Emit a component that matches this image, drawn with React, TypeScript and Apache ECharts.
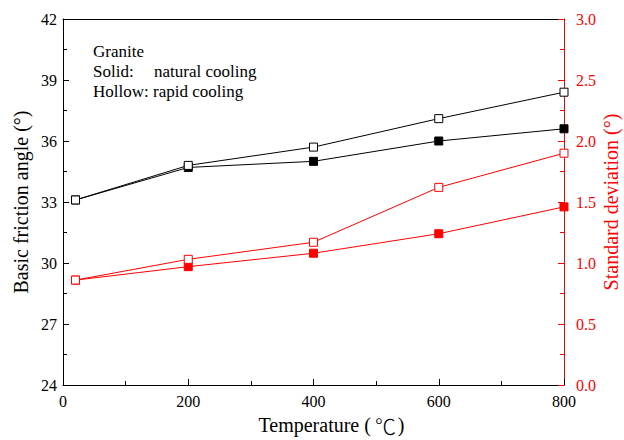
import React, { useEffect, useRef } from "react";
import * as echarts from "echarts";

const temperatures = [20, 200, 400, 600, 800];
const angleNatural = [33.1, 34.7, 35.0, 36.0, 36.6];
const angleRapid = [33.1, 34.8, 35.7, 37.1, 38.4];
const sdNatural = [0.86, 0.97, 1.08, 1.24, 1.46];
const sdRapid = [0.86, 1.03, 1.17, 1.62, 1.9];

const FONT = "'Liberation Serif', 'Times New Roman', serif";
const RED = "#ff0000";

function pairs(xs: number[], ys: number[]) {
  return xs.map((x, i) => [x, ys[i]]);
}

const minorAxis = (min: number, max: number, interval: number, position: string, color: string) => ({
  type: "value",
  min,
  max,
  interval,
  position,
  axisLine: { show: false, onZero: false },
  axisTick: { show: true, inside: true, length: 4, lineStyle: { color } },
  axisLabel: { show: false },
  splitLine: { show: false },
});

export default function App() {
  const ref = useRef<HTMLDivElement>(null);
  useEffect(() => {
    if (!ref.current) return;
    const chart = echarts.init(ref.current, undefined, { renderer: "svg" });
    const makeSeries = (name: string, data: number[], yIdx: number, color: string, hollow: boolean, z: number) => ({
      name,
      type: "line",
      yAxisIndex: yIdx,
      data: pairs(temperatures, data),
      symbol: "rect",
      symbolSize: 8,
      showAllSymbol: true,
      z,
      lineStyle: { color, width: 1 },
      itemStyle: hollow
        ? { color: "#ffffff", borderColor: color, borderWidth: 1 }
        : { color, borderColor: color, borderWidth: 1 },
      emphasis: { disabled: true },
    });
    chart.setOption({
      animation: false,
      grid: { left: 63, right: 60, top: 19, bottom: 55, containLabel: false, outerBoundsMode: "none" },
      xAxis: [
        {
          type: "value",
          min: 0,
          max: 800,
          interval: 200,
          position: "bottom",
          name: "{a|Temperature (}{b|℃}{a|)}",
          nameLocation: "middle",
          nameGap: 30,
          nameMoveOverlap: false,
          nameTextStyle: {
            fontFamily: FONT,
            fontSize: 20,
            color: "#000",
            padding: [0, 0, 0, 36],
            rich: {
              a: { fontFamily: FONT, fontSize: 20, color: "#000", lineHeight: 20 },
              b: { fontFamily: "'Noto Sans CJK SC'", fontSize: 21, fontWeight: 300, color: "#000", padding: [0, 2, 0, 4], lineHeight: 20 },
            },
          },
          axisLine: { show: true, onZero: false, lineStyle: { color: "#000", width: 1 } },
          axisTick: { show: true, inside: true, length: 6, lineStyle: { color: "#000" } },
          axisLabel: { fontFamily: FONT, fontSize: 16, color: "#000", margin: 8 },
          splitLine: { show: false },
        },
        {
          type: "value",
          min: 0,
          max: 800,
          position: "top",
          axisLine: { show: true, onZero: false, lineStyle: { color: "#000", width: 1 } },
          axisTick: { show: false },
          axisLabel: { show: false },
          splitLine: { show: false },
        },
        minorAxis(0, 800, 100, "bottom", "#000"),
      ],
      yAxis: [
        {
          type: "value",
          min: 24,
          max: 42,
          interval: 3,
          position: "left",
          name: "Basic friction angle (°)",
          nameLocation: "middle",
          nameGap: 32,
          nameMoveOverlap: false,
          nameTextStyle: { fontFamily: FONT, fontSize: 20, color: "#000" },
          axisLine: { show: true, onZero: false, lineStyle: { color: "#000", width: 1 } },
          axisTick: { show: true, inside: true, length: 6, lineStyle: { color: "#000" } },
          axisLabel: { fontFamily: FONT, fontSize: 16, color: "#000", margin: 6 },
          splitLine: { show: false },
        },
        {
          type: "value",
          min: 0,
          max: 3,
          interval: 0.5,
          position: "right",
          name: "Standard deviation (°)",
          nameLocation: "middle",
          nameGap: 37,
          nameMoveOverlap: false,
          nameTextStyle: { fontFamily: FONT, fontSize: 20, color: RED },
          axisLine: { show: true, onZero: false, lineStyle: { color: RED, width: 1 } },
          axisTick: { show: true, inside: true, length: 6, lineStyle: { color: RED } },
          axisLabel: {
            fontFamily: FONT,
            fontSize: 16,
            color: RED,
            margin: 12,
            formatter: (v: number) => v.toFixed(1),
          },
          splitLine: { show: false },
        },
        minorAxis(24, 42, 1.5, "left", "#000"),
        minorAxis(0, 3, 0.25, "right", RED),
      ],
      graphic: [
        { type: "text", left: 93, top: 43, style: { text: "Granite", font: `17px ${FONT}`, fill: "#000" } },
        { type: "text", left: 93, top: 63, style: { text: "Solid:", font: `17px ${FONT}`, fill: "#000" } },
        { type: "text", left: 154, top: 63, style: { text: "natural cooling", font: `17px ${FONT}`, fill: "#000" } },
        { type: "text", left: 93, top: 83, style: { text: "Hollow: rapid cooling", font: `17px ${FONT}`, fill: "#000" } },
      ],
      series: [
        makeSeries("Angle natural", angleNatural, 0, "#000", false, 2),
        makeSeries("Angle rapid", angleRapid, 0, "#000", true, 3),
        makeSeries("SD natural", sdNatural, 1, RED, false, 2),
        makeSeries("SD rapid", sdRapid, 1, RED, true, 3),
      ],
    });
    return () => chart.dispose();
  }, []);
  return (
    <div
      ref={ref}
      style={{ position: "fixed", left: 0, top: 0, width: 624, height: 440, background: "#fff" }}
    />
  );
}
